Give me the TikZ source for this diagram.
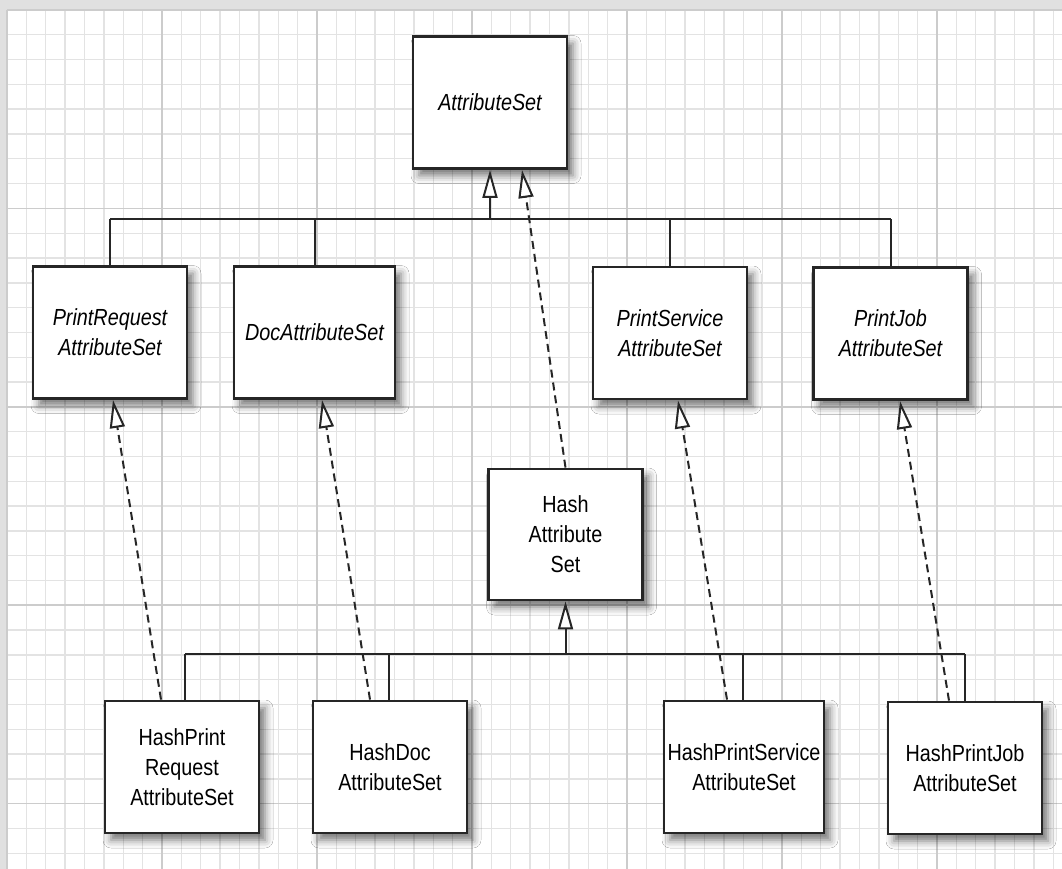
\documentclass[tikz,border=0pt]{standalone}
\usepackage{fontspec}
\setmainfont{Liberation Sans}[FakeStretch=0.85]
\usetikzlibrary{arrows.meta,shadows.blur}

\begin{document}
\begin{tikzpicture}[x=1pt,y=-1pt,
  minor/.style={draw=black!11,line width=1.4pt},
  major/.style={draw=black!20,line width=1.5pt},
  classbox/.style={draw=black!85,line width=2.8pt,fill=white,
    minimum width=154pt,minimum height=132pt,align=center,
    font=\fontsize{23.3}{30}\selectfont,
    blur shadow={shadow xshift=6pt,shadow yshift=-7pt,shadow blur radius=8pt,shadow opacity=55}},
  ifacebox/.style={classbox,font=\fontsize{23.3}{30}\selectfont\itshape},
  link/.style={draw=black!85,line width=2pt},
  realize/.style={link,dash pattern=on 8pt off 5pt},
  gen/.style={-{Triangle[length=28pt,width=15pt,fill=white,line width=2pt]}}]
\useasboundingbox (0,0) rectangle (1062,869);
% graph paper
\fill[black!12] (0,0) rectangle (1062,869);
\fill[white] (7,10) rectangle (1062,869);
\foreach \i in {0,...,54} \draw[minor] (7+19.375*\i,10) -- (7+19.375*\i,869);
\foreach \j in {0,...,34} \draw[minor] (7,10+24.8*\j) -- (1062,10+24.8*\j);
\foreach \i in {0,...,6} \draw[major] (7+155*\i,10) -- (7+155*\i,869);
\foreach \j in {0,...,4} \draw[major] (7,10+198.4*\j) -- (1062,10+198.4*\j);

% interfaces
\node[ifacebox] (aset) at (490,102.5) {AttributeSet};
\node[ifacebox] (prq) at (110,332.5) {PrintRequest\\AttributeSet};
\node[ifacebox,minimum width=161pt] (doc) at (314.5,332.5) {DocAttributeSet};
\node[ifacebox] (psv) at (670,333) {PrintService\\AttributeSet};
\node[ifacebox] (pjb) at (890.5,333.5) {PrintJob\\AttributeSet};

% classes
\node[classbox,minimum height=131pt] (hash) at (565.5,534.5) {Hash\\Attribute\\Set};
\node[classbox] (hprq) at (182,767) {HashPrint\\Request\\AttributeSet};
\node[classbox] (hdoc) at (390,767) {HashDoc\\AttributeSet};
\node[classbox,minimum width=160pt] (hpsv) at (744,767) {HashPrintService\\AttributeSet};
\node[classbox] (hpjb) at (965,768) {HashPrintJob\\AttributeSet};

% extends AttributeSet
\coordinate (tbus) at (490,219);
\draw[link] (prq.north |- tbus) -- (pjb.north |- tbus);
\draw[link] (prq.north) -- (prq.north |- tbus);
\draw[link] (doc.north) -- (doc.north |- tbus);
\draw[link] (psv.north) -- (psv.north |- tbus);
\draw[link] (pjb.north) -- (pjb.north |- tbus);
\draw[link,gen] (tbus) -- (aset.south);

% extends HashAttributeSet
\coordinate (bbus) at (565.5,654);
\draw[link] ([xshift=3pt]hprq.north |- bbus) -- (hpjb.north |- bbus);
\draw[link] ([xshift=3pt]hprq.north) -- ([xshift=3pt]hprq.north |- bbus);
\draw[link] ([xshift=-1pt]hdoc.north) -- ([xshift=-1pt]hdoc.north |- bbus);
\draw[link] ([xshift=-1pt]hpsv.north) -- ([xshift=-1pt]hpsv.north |- bbus);
\draw[link] (hpjb.north) -- (hpjb.north |- bbus);
\draw[link,gen] (bbus) -- (hash.south);

% implements
\draw[realize,gen] ([xshift=-21pt]hprq.north) -- ([xshift=3pt]prq.south);
\draw[realize,gen] ([xshift=-20pt]hdoc.north) -- ([xshift=7.5pt]doc.south);
\draw[realize,gen] ([xshift=-17pt]hpsv.north) -- ([xshift=8pt]psv.south);
\draw[realize,gen] ([xshift=-16pt]hpjb.north) -- ([xshift=9.5pt]pjb.south);
\draw[realize,gen] (hash.north) -- ([xshift=32pt]aset.south);
\end{tikzpicture}
\end{document}
